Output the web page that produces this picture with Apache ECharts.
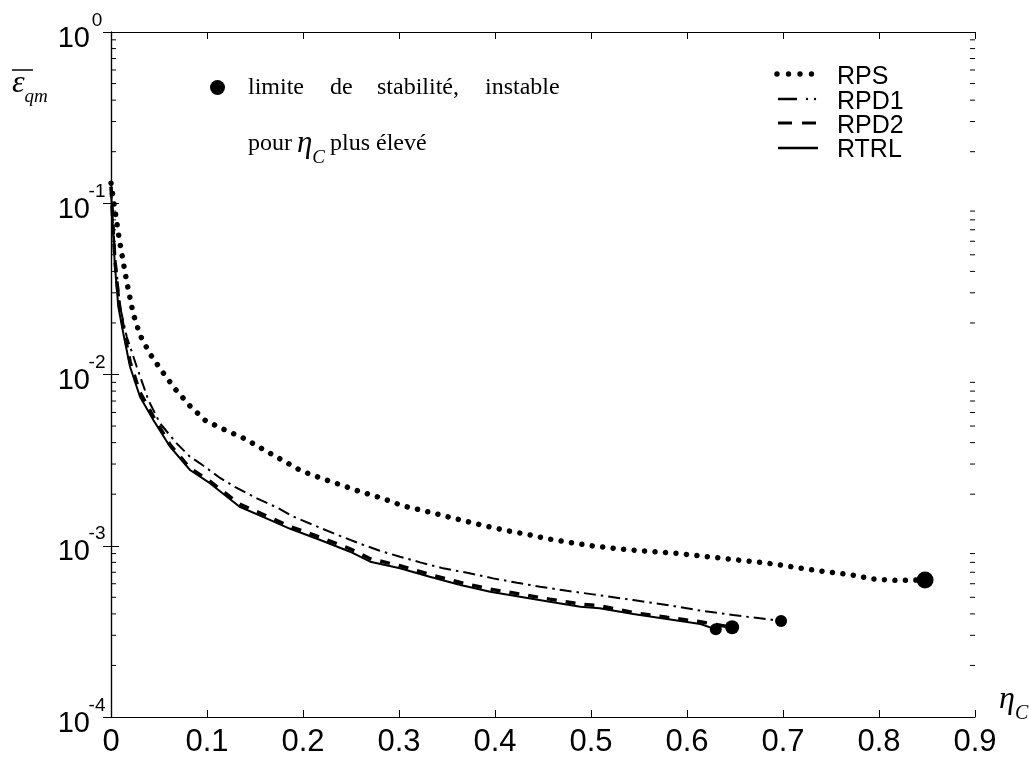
<!DOCTYPE html>
<html><head><meta charset="utf-8">
<script src="https://cdn.jsdelivr.net/npm/echarts@6/dist/echarts.min.js"></script>
<style>html,body{margin:0;padding:0;background:#fff}#c{width:1029px;height:758px}</style>
</head><body><div id="c"></div>
<script>
const seriesNames = ['RPS', 'RPD1', 'RPD2', 'RTRL'];
const xTickValues = [0, 0.1, 0.2, 0.3, 0.4, 0.5, 0.6, 0.7, 0.8, 0.9];
const yDecades = [1e-4, 1e-3, 1e-2, 1e-1, 1];

const rpsEta = [0, 0.0086, 0.0164, 0.0232, 0.0302, 0.0406, 0.0539, 0.0677, 0.0823, 0.0982, 0.119, 0.140, 0.158, 0.178, 0.198, 0.218, 0.240, 0.261, 0.283, 0.304, 0.326, 0.348, 0.370, 0.391, 0.414, 0.435, 0.458, 0.480, 0.502, 0.524, 0.547, 0.569, 0.592, 0.615, 0.637, 0.659, 0.682, 0.704, 0.726, 0.749, 0.772, 0.793, 0.817, 0.848];
const rpsErr = [0.131, 0.0616, 0.0347, 0.0226, 0.0170, 0.0132, 0.0103, 0.00812, 0.00655, 0.00539, 0.00474, 0.0042, 0.00367, 0.00317, 0.00274, 0.00249, 0.00226, 0.00206, 0.00189, 0.00171, 0.00160, 0.00149, 0.00139, 0.00130, 0.00122, 0.00116, 0.00109, 0.00104, 0.000997, 0.000966, 0.00094, 0.00092, 0.0009, 0.00087, 0.000845, 0.000818, 0.000793, 0.000762, 0.000728, 0.0007, 0.000675, 0.00064, 0.000628, 0.000631];

const rpd1Eta = [0, 0.002, 0.005, 0.0094, 0.0164, 0.0268, 0.0389, 0.051, 0.0684, 0.0823, 0.0927, 0.114, 0.129, 0.152, 0.173, 0.19, 0.211, 0.232, 0.259, 0.280, 0.301, 0.322, 0.346, 0.371, 0.398, 0.423, 0.447, 0.475, 0.502, 0.544, 0.579, 0.614, 0.648, 0.676, 0.698];
const rpd1Err = [0.125, 0.075, 0.045, 0.0249, 0.0166, 0.0111, 0.0071, 0.00519, 0.00396, 0.00331, 0.00303, 0.00248, 0.00221, 0.00189, 0.00167, 0.00148, 0.00132, 0.00118, 0.00103, 0.000935, 0.000863, 0.0008, 0.000738, 0.000696, 0.000645, 0.000608, 0.000576, 0.000546, 0.00052, 0.000482, 0.000451, 0.000418, 0.000394, 0.000377, 0.000364];

const rpd2Eta = [0, 0.002, 0.004, 0.008, 0.013, 0.02, 0.03, 0.044, 0.0615, 0.082, 0.103, 0.134, 0.166, 0.186, 0.218, 0.249, 0.27, 0.301, 0.332, 0.364, 0.395, 0.426, 0.457, 0.489, 0.509, 0.544, 0.579, 0.614, 0.647];
const rpd2Err = [0.125, 0.075, 0.047, 0.027, 0.0185, 0.0118, 0.0079, 0.0057, 0.0039, 0.00285, 0.00238, 0.00175, 0.00146, 0.0013, 0.00112, 0.00096, 0.00084, 0.000765, 0.00068, 0.00061, 0.000558, 0.000522, 0.000488, 0.000456, 0.000446, 0.000407, 0.000382, 0.00036, 0.000334];

const rtrlEta = [0, 0.002, 0.004, 0.0076, 0.0128, 0.0198, 0.0302, 0.0441, 0.0615, 0.0823, 0.103, 0.134, 0.166, 0.186, 0.218, 0.249, 0.270, 0.301, 0.332, 0.364, 0.395, 0.426, 0.457, 0.489, 0.509, 0.544, 0.579, 0.614, 0.630];
const rtrlErr = [0.12, 0.07, 0.0436, 0.0249, 0.0174, 0.0111, 0.00742, 0.00542, 0.00379, 0.00277, 0.00232, 0.00169, 0.00141, 0.00126, 0.00108, 0.000923, 0.000807, 0.000739, 0.000659, 0.00059, 0.000539, 0.000504, 0.000471, 0.00044, 0.000431, 0.000399, 0.000373, 0.000349, 0.000325];

const minorMultipliers = [2, 3, 4, 5, 6, 7, 8, 9];

const zip = (a, b) => a.map((v, i) => [v, b[i]]);
const last = (a, b) => [[a[a.length - 1], b[b.length - 1]]];

const minorVals = [];
yDecades.slice(0, -1).forEach(d => minorMultipliers.forEach(m => minorVals.push([0, m * d])));

const SANS = '"Liberation Sans", Arial, sans-serif';
const SERIF = '"Liberation Serif", "Times New Roman", serif';
const black = '#000';

const chart = echarts.init(document.getElementById('c'), null, {renderer: 'canvas'});

const axisCommonX = {
  type: 'value', min: 0, max: 0.9, interval: 0.1,
  axisLine: {show: true, lineStyle: {color: black, width: 1.2}},
  axisTick: {show: true, inside: true, length: 7, lineStyle: {color: black, width: 1}},
  splitLine: {show: false}
};
const axisCommonY = {
  type: 'log', logBase: 10, min: 1e-4, max: 1,
  axisLine: {show: true, lineStyle: {color: black, width: 1.2}},
  axisTick: {show: true, inside: true, length: 8, lineStyle: {color: black, width: 1}},
  splitLine: {show: false}, minorTick: {show: false}, minorSplitLine: {show: false}
};

// legend drawn as graphics (style only; names come from seriesNames)
const legTextX = 837, legY = [77, 102, 126, 150];
const legendGraphics = [];
[777, 788.5, 800, 811.5].forEach(cx => legendGraphics.push({type: 'circle', shape: {cx: cx, cy: legY[0] - 3, r: 2.7}, style: {fill: black}}));
legendGraphics.push({type: 'line', shape: {x1: 778, y1: legY[1] - 3, x2: 797, y2: legY[1] - 3}, style: {stroke: black, lineWidth: 2.5}});
[807, 815].forEach(cx => legendGraphics.push({type: 'circle', shape: {cx: cx, cy: legY[1] - 3, r: 1.2}, style: {fill: black}}));
legendGraphics.push({type: 'line', shape: {x1: 778, y1: legY[2] - 3, x2: 792, y2: legY[2] - 3}, style: {stroke: black, lineWidth: 3}});
legendGraphics.push({type: 'line', shape: {x1: 802, y1: legY[2] - 3, x2: 816, y2: legY[2] - 3}, style: {stroke: black, lineWidth: 3}});
legendGraphics.push({type: 'line', shape: {x1: 778, y1: legY[3] - 2, x2: 818, y2: legY[3] - 2}, style: {stroke: black, lineWidth: 2.5}});
seriesNames.forEach((n, i) => legendGraphics.push({type: 'text', x: legTextX, y: legY[i],
  style: {text: n, font: '25px ' + SANS, fill: black, verticalAlign: 'middle'}}));

const option = {
  backgroundColor: '#fff',
  animation: false,
  color: [black],
  grid: {left: 111, right: 54, top: 32, bottom: 41, containLabel: false},
  xAxis: [
    Object.assign({}, axisCommonX, {
      position: 'bottom',
      axisLabel: {show: true, color: black, fontFamily: SANS, fontSize: 31, margin: 10,
        formatter: v => (v === 0 ? '0' : v.toFixed(1))}
    }),
    Object.assign({}, axisCommonX, {position: 'top', axisLabel: {show: false}})
  ],
  yAxis: [
    Object.assign({}, axisCommonY, {
      position: 'left',
      axisLabel: {
        show: true, margin: 7, color: black, align: 'right', verticalAlign: 'middle',
        formatter: v => '{b|10}{s|' + Math.round(Math.log10(v)) + '}',
        rich: {
          b: {fontFamily: SANS, fontSize: 29, color: black, padding: [13, 0, 0, 0], verticalAlign: 'bottom'},
          s: {fontFamily: SANS, fontSize: 19, color: black, width: 14, align: 'left', verticalAlign: 'top'}
        }
      }
    }),
    Object.assign({}, axisCommonY, {position: 'right', axisLabel: {show: false}})
  ],
  series: [
    {name: 'RPS', type: 'line', data: zip(rpsEta, rpsErr), showSymbol: false, symbol: 'none',
      lineStyle: {color: black, width: 5.5, type: [0.01, 10.5], cap: 'round'}, z: 3},
    {name: 'RPD1', type: 'line', data: zip(rpd1Eta, rpd1Err), showSymbol: false, symbol: 'none',
      lineStyle: {color: black, width: 2, type: [12, 5, 2.5, 5]}, z: 3},
    {name: 'RTRL', type: 'line', data: zip(rtrlEta, rtrlErr), showSymbol: false, symbol: 'none',
      lineStyle: {color: black, width: 2}, z: 3},
    {name: 'RPD2', type: 'line', data: zip(rpd2Eta, rpd2Err), showSymbol: false, symbol: 'none',
      lineStyle: {color: black, width: 3.5, type: [10, 9]}, z: 4},
    {name: 'endRPS', type: 'scatter', data: last(rpsEta, rpsErr), symbolSize: 17, itemStyle: {color: black, opacity: 1}, z: 5, silent: true},
    {name: 'endRPD1', type: 'scatter', data: last(rpd1Eta, rpd1Err), symbolSize: 12, itemStyle: {color: black, opacity: 1}, z: 5, silent: true},
    {name: 'endRPD2', type: 'scatter', data: last(rpd2Eta, rpd2Err), symbolSize: 14, itemStyle: {color: black, opacity: 1}, z: 5, silent: true},
    {name: 'endRTRL', type: 'scatter', data: last(rtrlEta, rtrlErr), symbolSize: 12, itemStyle: {color: black, opacity: 1}, z: 5, silent: true},
    {
      name: 'minorTicks', type: 'custom', data: minorVals, clip: false, silent: true, z: 2,
      encode: {x: 0, y: 1},
      renderItem: function (params, api) {
        const cs = params.coordSys;
        const p = api.coord([0, api.value(1)]);
        const y = p[1];
        const st = {stroke: black, lineWidth: 1};
        return {
          type: 'group',
          children: [
            {type: 'line', shape: {x1: cs.x, y1: y, x2: cs.x + 5, y2: y}, style: st},
            {type: 'line', shape: {x1: cs.x + cs.width - 5, y1: y, x2: cs.x + cs.width, y2: y}, style: st}
          ]
        };
      }
    }
  ],
  graphic: legendGraphics.concat([
    {type: 'text', left: 12, top: 68, style: {
      text: '{e|ε}{s|qm}',
      rich: {
        e: {fontFamily: SERIF, fontStyle: 'italic', fontSize: 32, fill: black},
        s: {fontFamily: SERIF, fontStyle: 'italic', fontSize: 19, fill: black, verticalAlign: 'bottom', padding: [0, 0, -6, 0]}
      }}},
    {type: 'line', shape: {x1: 12, y1: 70, x2: 33, y2: 70}, style: {stroke: black, lineWidth: 1.5}},
    {type: 'text', left: 999, top: 684, style: {
      text: '{e|η}{s|C}',
      rich: {
        e: {fontFamily: SERIF, fontStyle: 'italic', fontSize: 32, fill: black},
        s: {fontFamily: SERIF, fontStyle: 'italic', fontSize: 20, fill: black, verticalAlign: 'bottom', padding: [0, 0, -8, 0]}
      }}},
    {type: 'circle', shape: {cx: 217.5, cy: 87.5, r: 7.5}, style: {fill: black}},
    {type: 'text', left: 248, top: 76, style: {text: 'limite', font: '24px ' + SERIF, fill: black}},
    {type: 'text', left: 330, top: 76, style: {text: 'de', font: '24px ' + SERIF, fill: black}},
    {type: 'text', left: 377, top: 76, style: {text: 'stabilité,', font: '24px ' + SERIF, fill: black}},
    {type: 'text', left: 485, top: 76, style: {text: 'instable', font: '24px ' + SERIF, fill: black}},
    {type: 'text', left: 248, top: 128, style: {
      text: '{t|pour}{e|η}{c|C}{t|plus élevé}',
      rich: {
        t: {fontFamily: SERIF, fontSize: 24, fill: black},
        e: {fontFamily: SERIF, fontStyle: 'italic', fontSize: 31, fill: black, padding: [0, 0, 0, 5]},
        c: {fontFamily: SERIF, fontStyle: 'italic', fontSize: 19, fill: black, verticalAlign: 'bottom', padding: [0, 5, -8, 0]}
      }}}
  ])
};
chart.setOption(option);
</script>
</body></html>
